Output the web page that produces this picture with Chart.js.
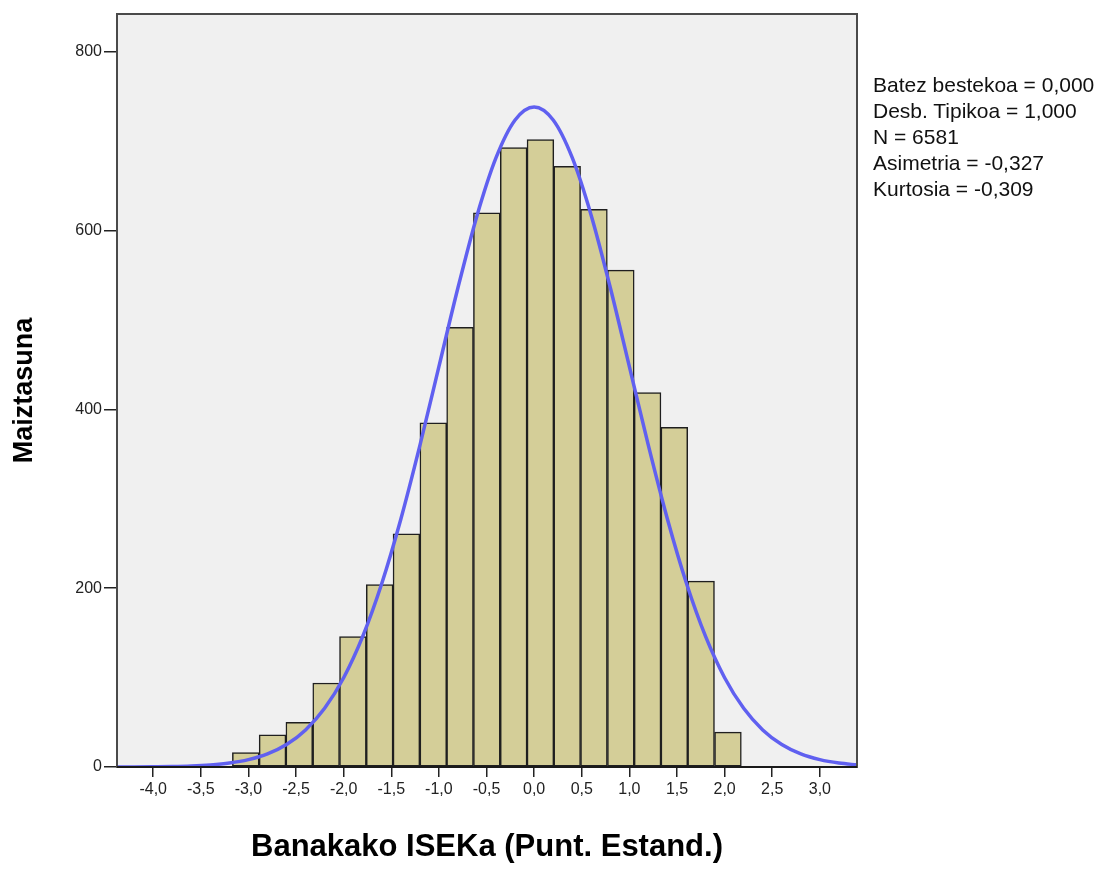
<!DOCTYPE html>
<html>
<head>
<meta charset="utf-8">
<script src="https://cdn.jsdelivr.net/npm/chart.js@4.4.1/dist/chart.umd.min.js"></script>
<style>
  body { margin: 0; background: #fff; }
  #wrap { position: relative; width: 1104px; height: 871px; }
  #stats {
    position: absolute; left: 873px; top: 72px;
    font-family: Arial, 'Liberation Sans', sans-serif;
    font-size: 21px; line-height: 26px; color: #111;
    white-space: nowrap;
  }
</style>
</head>
<body>
<div id="wrap">
  <canvas id="histograma" width="1104" height="871"></canvas>
  <div id="stats">
    <div>Batez bestekoa = 0,000</div>
    <div>Desb. Tipikoa = 1,000</div>
    <div>N = 6581</div>
    <div>Asimetria = -0,327</div>
    <div>Kurtosia = -0,309</div>
  </div>
</div>
<script>
// bin centres (standardised score) and counts
const binCenters = [-3.028, -2.747, -2.466, -2.184, -1.903, -1.622, -1.341, -1.059, -0.778, -0.497,
                    -0.215, 0.066, 0.347, 0.628, 0.910, 1.191, 1.472, 1.753, 2.035];
const binCounts = [16, 36, 50, 94, 146, 204, 261, 385, 492, 620,
                   693, 702, 672, 624, 556, 419, 380, 208, 39];

// normal curve
const curveX = [-4.4, -4.2, -4.0, -3.8, -3.6, -3.4, -3.2, -3.0, -2.8, -2.6, -2.4, -2.2, -2.0, -1.8, -1.6,
                -1.4, -1.2, -1.0, -0.8, -0.6, -0.4, -0.2, 0.0, 0.2, 0.4, 0.6, 0.8, 1.0, 1.2, 1.4,
                1.6, 1.8, 2.0, 2.2, 2.4, 2.6, 2.8, 3.0, 3.2, 3.4];
const curveY = [0.05, 0.1, 0.25, 0.5, 1.1, 2.3, 4.4, 8.2, 14.6, 25.1, 41.5, 65.7, 99.9, 146.1, 205.3,
                277.2, 359.5, 447.9, 536.2, 616.9, 681.7, 723.9, 738.5, 723.9, 681.7, 616.9, 536.2, 447.9, 359.5, 277.2,
                205.3, 146.1, 99.9, 65.7, 41.5, 25.1, 14.6, 8.2, 4.4, 2.3];

const xTicks = [-4.0, -3.5, -3.0, -2.5, -2.0, -1.5, -1.0, -0.5, 0.0, 0.5, 1.0, 1.5, 2.0, 2.5, 3.0];
const yTicks = [0, 200, 400, 600, 800];

const fonte = "Arial, 'Liberation Sans', sans-serif";

const fundoPlot = {
    id: 'fundoPlot',
    beforeDraw(chart) {
        const { ctx, chartArea } = chart;
        ctx.save();
        ctx.fillStyle = '#f0f0f0';
        ctx.fillRect(chartArea.left, chartArea.top, chartArea.right - chartArea.left, chartArea.bottom - chartArea.top);
        ctx.restore();
    },
    afterDatasetsDraw(chart) {
        const { ctx, chartArea } = chart;
        ctx.save();
        ctx.strokeStyle = '#4a4a4a';
        ctx.lineWidth = 2;
        ctx.strokeRect(chartArea.left, chartArea.top, chartArea.right - chartArea.left, chartArea.bottom - chartArea.top);
        ctx.strokeStyle = '#1a1a1a';
        ctx.beginPath();
        ctx.moveTo(chartArea.left, chartArea.bottom);
        ctx.lineTo(chartArea.right, chartArea.bottom);
        ctx.stroke();
        ctx.restore();
    }
};

let graficoHistograma = new Chart(
    document.getElementById('histograma'), {
    type: 'bar',
    data: {
        datasets: [{
            type: 'line',
            label: 'curva',
            data: curveX.map((x, i) => ({ x: x, y: curveY[i] })),
            borderColor: 'rgb(96, 96, 240)',
            borderWidth: 3.5,
            pointRadius: 0,
            cubicInterpolationMode: 'monotone',
            fill: false,
            order: 0
        }, {
            label: 'Maiztasuna',
            data: binCenters.map((x, i) => ({ x: x, y: binCounts[i] })),
            backgroundColor: 'rgb(212, 206, 152)',
            borderColor: '#1f1f1f',
            borderWidth: 1.5,
            borderSkipped: false,
            barPercentage: 1,
            categoryPercentage: 1,
            order: 1
        }]
    },
    options: {
        responsive: false,
        animation: false,
        layout: { padding: { top: 14, right: 247, left: 0, bottom: 0 } },
        plugins: {
            legend: { display: false },
            tooltip: { enabled: false }
        },
        scales: {
            x: {
                type: 'linear',
                min: -4.38,
                max: 3.39,
                offset: false,
                afterBuildTicks: (scale) => { scale.ticks = xTicks.map(v => ({ value: v })); },
                afterFit: (scale) => { scale.height = 104; },
                border: { display: false },
                grid: { offset: false, drawOnChartArea: false, drawTicks: true, tickLength: 10, color: '#222', lineWidth: 1.5 },
                ticks: {
                    autoSkip: false,
                    maxRotation: 0,
                    padding: 3,
                    color: '#222',
                    font: { family: fonte, size: 16 },
                    callback: (v) => Number(v).toFixed(1).replace('.', ',')
                },
                title: {
                    display: true,
                    text: 'Banakako ISEKa (Punt. Estand.)',
                    color: '#000',
                    font: { family: fonte, size: 31, weight: 'bold' },
                    padding: { top: 0, bottom: 5 }
                }
            },
            y: {
                min: 0,
                max: 842.5,
                afterBuildTicks: (scale) => { scale.ticks = yTicks.map(v => ({ value: v })); },
                afterFit: (scale) => { scale.width = 117; },
                border: { display: false },
                grid: { drawOnChartArea: false, drawTicks: true, tickLength: 13, color: '#222', lineWidth: 1.5 },
                ticks: {
                    padding: 2,
                    color: '#222',
                    font: { family: fonte, size: 16 }
                },
                title: {
                    display: true,
                    text: 'Maiztasuna',
                    color: '#000',
                    font: { family: fonte, size: 27, weight: 'bold' },
                    padding: { top: 8, bottom: 0 }
                }
            }
        }
    },
    plugins: [fundoPlot]
}
)
</script>
</body>
</html>
